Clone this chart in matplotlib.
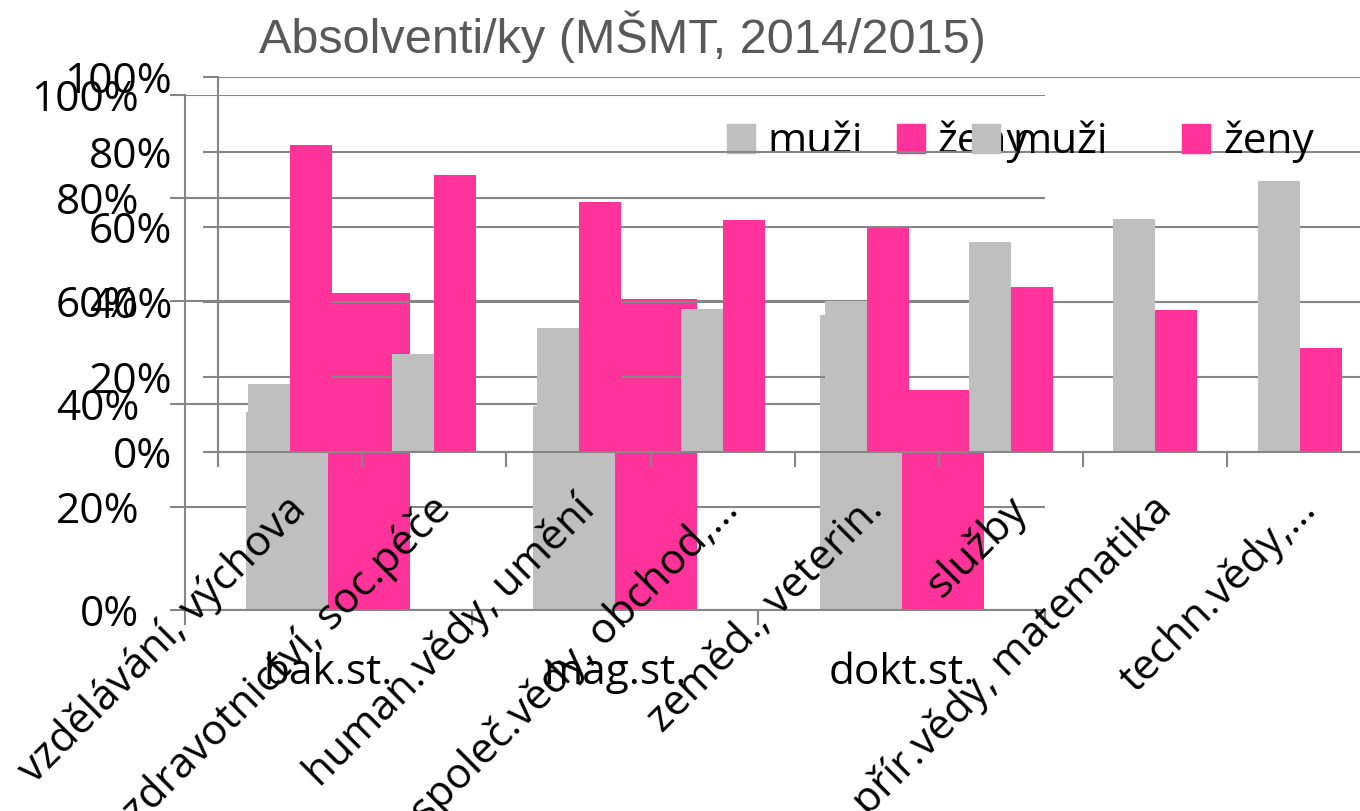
from __future__ import annotations

import matplotlib

matplotlib.use("Agg")
import matplotlib.pyplot as plt
import numpy as np
from matplotlib.patches import Patch
from matplotlib.ticker import FuncFormatter, FixedLocator
from matplotlib.transforms import ScaledTranslation

TITLE = "Absolventi/ky (MŠMT, 2014/2015)"

# back chart: by study level
LEVELS = ["bak.st.", "mag.st.", "dokt.st."]
LEVEL_MUZI = [38.5, 39.6, 57.2]
LEVEL_ZENY = [61.5, 60.4, 42.8]

# front chart: by field of study
FIELDS = [
    "vzdělávání, výchova",
    "zdravotnictví, soc.péče",
    "human.vědy, umění",
    "společ.vědy, obchod,…",
    "zeměd., veterin.",
    "služby",
    "přír.vědy, matematika",
    "techn.vědy,…",
]
FIELD_MUZI = [18.2, 26.1, 33.2, 38.1, 40.2, 56.1, 62.2, 72.2]
FIELD_ZENY = [81.8, 73.9, 66.8, 61.9, 59.8, 43.9, 37.8, 27.8]

SERIES = ["muži", "ženy"]
GREY = "#BFBFBF"
PINK = "#FF3399"
LINE = "#868686"
FS = 30.5

W, H = 1360, 811


def style_axes(ax, n_cat: int) -> None:
    ax.set_xlim(-0.5, n_cat - 0.5)
    ax.set_ylim(0, 100)
    ax.set_yticks(np.arange(0, 101, 20))
    ax.yaxis.set_major_formatter(FuncFormatter(lambda v, _: f"{v:.0f}%"))
    ax.grid(axis="y", color=LINE, lw=1.5)
    ax.set_axisbelow(True)
    for side in ("top", "right"):
        ax.spines[side].set_visible(False)
    for side in ("left", "bottom"):
        ax.spines[side].set_color(LINE)
        ax.spines[side].set_linewidth(1.5)
    ax.xaxis.set_minor_locator(FixedLocator(np.arange(-0.5, n_cat, 1.0)))
    ax.tick_params(axis="y", length=11, width=1.5, color=LINE, pad=22, labelsize=FS)
    ax.tick_params(axis="x", which="minor", length=11, width=1.5, color=LINE, direction="out")
    ax.tick_params(axis="x", which="major", length=0, labelsize=FS)


def legend(ax, x_px: float, spacing: float) -> None:
    handles = [Patch(color=GREY), Patch(color=PINK)]
    ax.legend(
        handles, SERIES, loc="center left",
        bbox_to_anchor=(x_px / W, 1 - 142 / H), bbox_transform=ax.figure.transFigure,
        ncol=2, frameon=False, borderpad=0, borderaxespad=0,
        handlelength=0.66, handleheight=0.66, handletextpad=0.3,
        columnspacing=spacing, fontsize=FS,
    )


def main() -> None:
    plt.rcParams["font.family"] = ["Open Sans", "DejaVu Sans"]
    fig = plt.figure(figsize=(W / 100, H / 100), dpi=100)

    # back chart (study level)
    back = fig.add_axes([185 / W, (H - 610) / H, 860 / W, 515 / H])
    x = np.arange(len(LEVELS))
    wb = 82 / 287
    back.bar(x - wb / 2, LEVEL_MUZI, wb, color=GREY)
    back.bar(x + wb / 2, LEVEL_ZENY, wb, color=PINK)
    style_axes(back, len(LEVELS))
    back.set_xticks(x, LEVELS)
    back.tick_params(axis="x", which="major", pad=30)
    legend(back, 727, 0.8)

    # front chart (field of study), transparent, drawn on top
    front = fig.add_axes([218 / W, (H - 452) / H, 8 * 144.2 / W, 375 / H])
    front.patch.set_alpha(0)
    x = np.arange(len(FIELDS))
    wf = 42 / 144.2
    front.bar(x - wf / 2, FIELD_MUZI, wf, color=GREY)
    front.bar(x + wf / 2, FIELD_ZENY, wf, color=PINK)
    style_axes(front, len(FIELDS))
    front.set_xticks(x, FIELDS)
    front.tick_params(axis="x", which="major", pad=37)
    shift = ScaledTranslation(0.1, 0, fig.dpi_scale_trans)
    for lab in front.get_xticklabels():
        lab.set_rotation(45)
        lab.set_rotation_mode("anchor")
        lab.set_ha("right")
        lab.set_va("center")
        lab.set_transform(lab.get_transform() + shift)
    legend(front, 972, 1.75)

    fig.text(622 / W, 1 - 37 / H, TITLE, ha="center", va="center", fontsize=35,
             color="#595959", family=["Liberation Sans", "DejaVu Sans"])

    fig.savefig("out.png", dpi=100, facecolor="white")


if __name__ == "__main__":
    main()
